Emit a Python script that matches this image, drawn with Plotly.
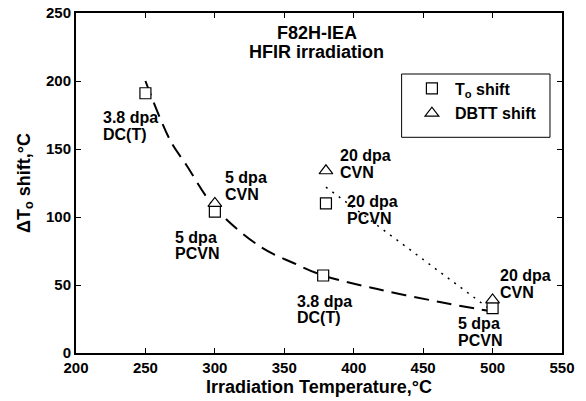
import plotly.graph_objects as go

# data
to_temp = [250, 300, 378, 380, 500]
to_shift = [191, 104, 57, 110, 33]
dbtt_temp = [300, 380, 500]
dbtt_shift = [110, 134, 39]

fit_temp = [250, 268, 279, 300, 333, 357, 378, 417, 462, 497]
fit_shift = [200, 156, 139, 107, 78, 66, 57, 47, 37.5, 31]

dot_temp = [380, 497]
dot_shift = [122, 33]

label_text = ["3.8 dpa<br>DC(T)", "5 dpa<br>CVN", "5 dpa<br>PCVN", "20 dpa<br>CVN",
              "20 dpa<br>PCVN", "3.8 dpa<br>DC(T)", "20 dpa<br>CVN", "5 dpa<br>PCVN"]
label_x = [218, 306, 270, 389, 394, 358, 504, 474]
label_y = [167, 122.6, 79, 139, 105, 32, 51, 15.4]

title_lines = ["F82H-IEA", "HFIR irradiation"]

x_ticks = [200, 250, 300, 350, 400, 450, 500, 550]
y_ticks = [0, 50, 100, 150, 200, 250]

FONT = "Liberation Sans, Arial, sans-serif"
LINE_GAP = 6.2  # half line spacing, in data units of y

fig = go.Figure()
fig.add_trace(go.Scatter(x=fit_temp, y=fit_shift, mode="lines", line=dict(color="black", width=2, dash="15px,8px", shape="spline"), showlegend=False, hoverinfo="skip"))
fig.add_trace(go.Scatter(x=dot_temp, y=dot_shift, mode="lines", line=dict(color="black", width=1.5, dash="2px,6px"), showlegend=False, hoverinfo="skip"))
fig.add_trace(go.Scatter(x=to_temp, y=to_shift, mode="markers", name="T<sub>o</sub> shift", legendgroup="a",
                         marker=dict(symbol="square", size=11, color="white", line=dict(color="black", width=1.2))))
fig.add_trace(go.Scatter(x=dbtt_temp, y=dbtt_shift, mode="markers", name="DBTT shift", legendgroup="b",
                         marker=dict(symbol="triangle-up", size=12, color="white", line=dict(color="black", width=1.2))))

for t, xx, yy in zip(label_text, label_x, label_y):
    lines = t.split("<br>")
    for i, ln in enumerate(lines):
        fig.add_annotation(x=xx, y=yy + LINE_GAP * (1 - 2 * i), text=ln, showarrow=False, xanchor="left", yanchor="middle", align="left",
                           font=dict(family=FONT, size=16, color="black", weight="bold"))

for i, ln in enumerate(title_lines):
    fig.add_annotation(x=0.495, y=0.941 - 0.056 * i, xref="paper", yref="paper", text=ln, showarrow=False,
                       xanchor="center", yanchor="middle", font=dict(family=FONT, size=18, color="black", weight="bold"))

# legend box
fig.add_shape(type="rect", xref="paper", yref="paper", x0=0.670, x1=0.9753, y0=(353-137.3)/340, y1=(353-74)/340,
              line=dict(color="black", width=1))

fig.update_layout(
    width=586, height=401,
    margin=dict(l=76, r=24, t=13, b=48),
    paper_bgcolor="white", plot_bgcolor="white",
    font=dict(family=FONT, size=15, color="black", weight="bold"),
    legend=dict(x=0.685, y=0.828, xanchor="left", yanchor="top", bgcolor="rgba(0,0,0,0)", borderwidth=0,
                font=dict(family=FONT, size=16, color="black", weight="bold"),
                traceorder="grouped", tracegroupgap=1, itemwidth=36),
    xaxis=dict(range=[200, 550], tickvals=x_ticks, ticks="inside", ticklen=5, tickwidth=1, tickcolor="black",
               showline=True, linecolor="black", linewidth=2, mirror="allticks", showgrid=False, zeroline=False,
               automargin=False,
               title=dict(text="Irradiation Temperature,°C", font=dict(size=18), standoff=5),
               tickfont=dict(size=15)),
    yaxis=dict(range=[0, 250], tickvals=y_ticks, ticks="inside", ticklen=5, tickwidth=1, tickcolor="black",
               showline=True, linecolor="black", linewidth=2, mirror="allticks", showgrid=False, zeroline=False,
               automargin=False,
               title=dict(text="ΔT<sub>o</sub> shift,°C", font=dict(size=18), standoff=11),
               tickfont=dict(size=15)),
)

fig.write_html("out.html")
